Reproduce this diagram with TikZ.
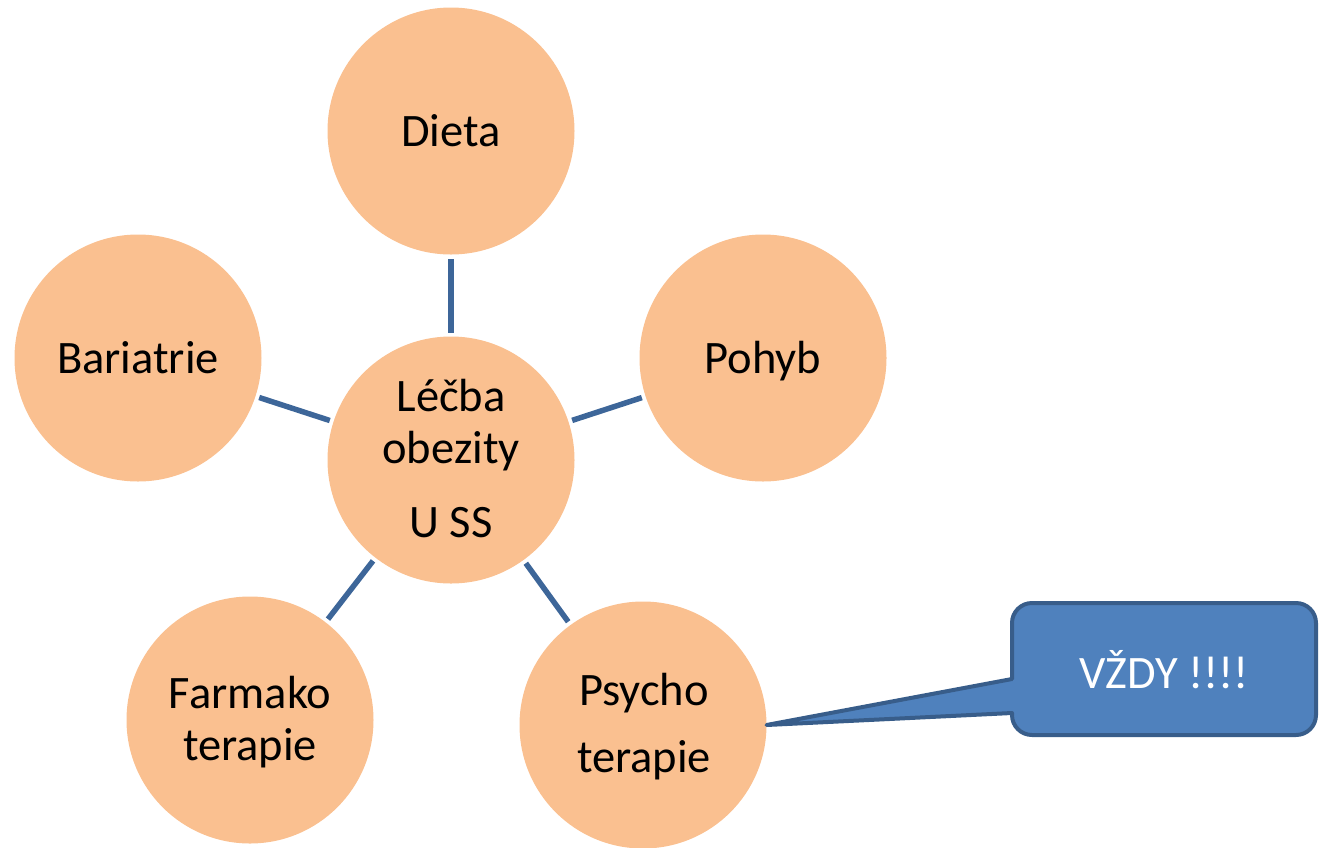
\documentclass[tikz,border=0pt]{standalone}
\usepackage{fontspec}
\setmainfont{Carlito}
\definecolor{peach}{HTML}{FAC090}
\definecolor{linkblue}{HTML}{3D6699}
\definecolor{boxblue}{HTML}{4F81BD}
\definecolor{boxedge}{HTML}{385D8A}
\tikzset{
  bubble/.style={circle, fill=peach, minimum size=247pt, inner sep=0pt, outer sep=0pt},
  word/.style={anchor=base, inner sep=0pt, font=\fontsize{46.5}{55}\selectfont},
  link/.style={draw=linkblue, line width=5.5pt, shorten <=4pt, shorten >=4pt},
  callout/.style={fill=boxblue, draw=boxedge, line width=4pt, line join=round}
}
\begin{document}
\begin{tikzpicture}[x=1pt, y=-1pt]
\useasboundingbox (0,0) rectangle (1323,847);

% the six circles
\node[bubble] (c)      at (451,460) {};
\node[bubble] (dieta)  at (451,131) {};
\node[bubble] (bar)    at (138,358) {};
\node[bubble] (pohyb)  at (763,358) {};
\node[bubble] (farm)   at (250,720) {};
\node[bubble] (psycho) at (643,725) {};

% spokes from the centre
\draw[link] (c) -- (dieta);
\draw[link] (c) -- (bar);
\draw[link] (c) -- (pohyb);
\draw[link] (c) -- (farm);
\draw[link] (c) -- (psycho);

% labels
\node[word] (t1) at (451,146) {Dieta};
\node[word] (t2) at (138,373) {Bariatrie};
\node[word] (t3) at (763,373) {Pohyb};
\node[word] (t4) at (451,411) {Léčba};
\node[word] (t5) at (451,463) {obezity};
\node[word] (t6) at (451,537) {U SS};
\node[word] (t7) at (250,708) {Farmako};
\node[word] (t8) at (250,760) {terapie};
\node[word] (t9) at (644,705) {Psycho};
\node[word] (t10) at (644,772) {terapie};

% speech bubble pointing at the psychotherapy circle
\draw[callout] (psycho.east) -- (1012,679) [rounded corners=20pt] -- (1012,603) -- (1316,603)
  -- (1316,735) -- (1012,735) [sharp corners] -- (1012,713) -- cycle;
\node[word, text=white] (note) at (1164,688) {VŽDY !!!!};
\end{tikzpicture}
\end{document}
